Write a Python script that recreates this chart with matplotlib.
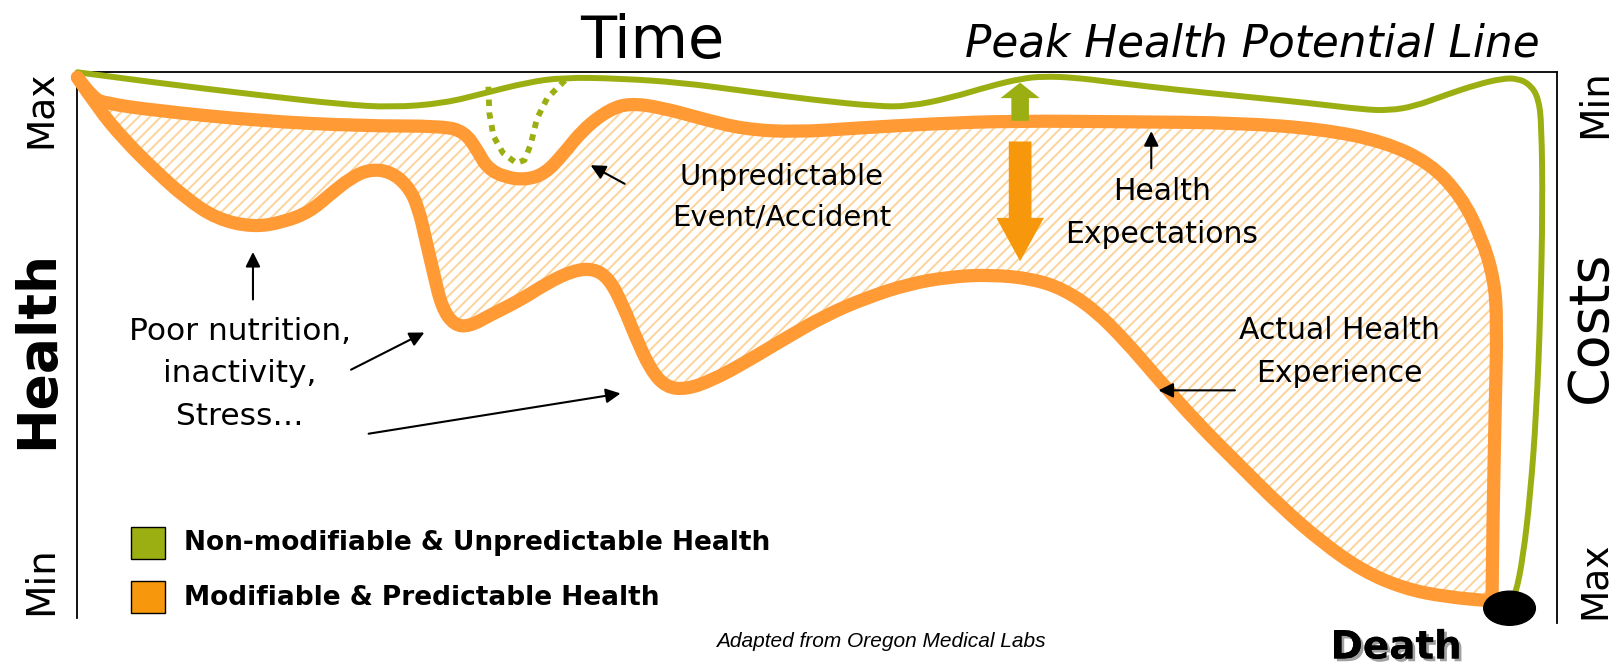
import matplotlib
matplotlib.use("Agg")
import matplotlib.pyplot as plt
from matplotlib.patches import Ellipse, Rectangle, PathPatch
from matplotlib.path import Path
import matplotlib.patheffects as pe

# ---------------- data (traced in a 1568 x 643 reference space) ----------------
peak_x = [75, 150, 250, 330, 380, 430, 470, 510, 545, 600, 660, 720, 790, 850, 880,
          920, 960, 990, 1010, 1040, 1080, 1140, 1200, 1270, 1320, 1345, 1370, 1400,
          1430, 1455, 1470, 1482, 1490, 1493, 1494, 1492, 1488, 1482, 1475, 1468, 1462]
peak_y = [70, 80, 92, 101, 104, 100, 90, 80, 75, 76, 80, 88, 97, 103, 103,
          95, 83, 76, 74, 75, 80, 87, 93, 100, 106, 107, 103, 92,
          82, 76, 76, 82, 95, 120, 200, 300, 400, 480, 540, 575, 588]

accident_x = [473, 474, 478, 487, 500, 508, 514, 520, 530, 548]
accident_y = [84, 110, 132, 148, 158, 155, 140, 115, 95, 77]

expect_x = [75, 90, 102, 150, 250, 350, 430, 450, 462, 472, 490, 510, 528, 545, 565,
            590, 610, 640, 680, 720, 770, 830, 900, 980, 1100, 1200, 1280, 1340,
            1385, 1415, 1435, 1447, 1450, 1448, 1446, 1445]
expect_y = [75, 95, 100, 107, 117, 122, 122, 128, 145, 163, 172, 174, 168, 150, 125,
            106, 100, 104, 115, 125, 128, 124, 120, 117, 118, 119, 125, 137,
            158, 190, 230, 270, 310, 400, 500, 585]

actual_x = [75, 95, 120, 150, 180, 210, 245, 275, 300, 320, 340, 358, 378, 395, 405,
            413, 420, 428, 440, 455, 475, 505, 530, 555, 575, 590, 603, 615, 630,
            645, 665, 690, 720, 760, 800, 840, 880, 920, 960, 1000, 1030, 1060,
            1090, 1120, 1160, 1200, 1240, 1280, 1320, 1360, 1400, 1445]
actual_y = [75, 105, 135, 165, 192, 212, 220, 215, 205, 188, 172, 164, 166, 180, 200,
            235, 265, 298, 315, 316, 305, 290, 274, 262, 260, 270, 295, 325, 358,
            375, 377, 368, 352, 328, 305, 288, 275, 268, 266, 270, 280, 300,
            330, 365, 410, 450, 490, 525, 553, 570, 578, 582]

legend_labels = ["Non-modifiable & Unpredictable Health", "Modifiable & Predictable Health"]
title_text = "Time"
peak_label = "Peak Health Potential Line"
left_labels = ["Max", "Health", "Min"]
right_labels = ["Min", "Costs", "Max"]
notes = ["Unpredictable\nEvent/Accident", "Health\nExpectations",
         "Actual Health\nExperience", "Poor nutrition,\ninactivity,\nStress…"]
source_text = "Adapted from Oregon Medical Labs"
end_text = "Death"

# ---------------- style ----------------
GREEN = "#9CAF12"
ORANGE = "#FF9A35"
ORANGE_SOLID = "#F7980C"
HATCH = "#FCD39A"

plt.rcParams["font.family"] = ["DejaVu Sans"]
plt.rcParams["hatch.linewidth"] = 1.4
plt.rcParams["hatch.color"] = HATCH


def smooth_path(xs, ys, closed=False):
    """Quadratic-Bezier path using the traced points as control points."""
    pts = list(zip(xs, ys))
    verts = [pts[0]]
    codes = [Path.MOVETO]
    for i in range(1, len(pts) - 1):
        mid = ((pts[i][0] + pts[i + 1][0]) / 2, (pts[i][1] + pts[i + 1][1]) / 2)
        verts += [pts[i], mid]
        codes += [Path.CURVE3, Path.CURVE3]
    verts.append(pts[-1])
    codes.append(Path.LINETO)
    if closed:
        verts.append(pts[0])
        codes.append(Path.CLOSEPOLY)
    return Path(verts, codes)


W, H = 1568, 643
fig = plt.figure(figsize=(16.19, 6.64), dpi=100)
ax = fig.add_axes([0, 0, 1, 1])
ax.set_xlim(0, W)
ax.set_ylim(H, 0)
ax.axis("off")

# frame
ax.plot([75, 75], [70, 598], color="black", lw=1.3, zorder=1)
ax.plot([75, 1508], [70, 70], color="black", lw=1.3, zorder=1)
ax.plot([1508, 1508], [70, 603], color="black", lw=1.3, zorder=1)

# hatched area between expectation and actual
fill_x = expect_x + actual_x[::-1]
fill_y = expect_y + actual_y[::-1]
ax.add_patch(PathPatch(smooth_path(fill_x, fill_y, closed=True), facecolor="none",
                       edgecolor=HATCH, hatch="///", lw=0, zorder=2))

# lines
line_kw = dict(fill=False, joinstyle="round", capstyle="round")
ax.add_patch(PathPatch(smooth_path(peak_x, peak_y), edgecolor=GREEN, lw=4.3,
                       zorder=4, **line_kw))
ax.plot(accident_x, accident_y, color=GREEN, lw=4.2, linestyle=(0, (1.1, 1.1)),
        dash_capstyle="butt", zorder=4)
ax.add_patch(PathPatch(smooth_path(expect_x, expect_y), edgecolor=ORANGE, lw=9.5,
                       zorder=5, **line_kw))
ax.add_patch(PathPatch(smooth_path(actual_x, actual_y), edgecolor=ORANGE, lw=9.5,
                       zorder=5, **line_kw))

# death dot
ax.add_patch(Ellipse((1462, 589), 50, 33, color="black", zorder=7))

# big arrows
ax.arrow(988, 117, 0, -37, width=17, head_width=38, head_length=15,
         length_includes_head=True, color=GREEN, lw=0, zorder=6)
ax.arrow(988, 137, 0, 116, width=22, head_width=46, head_length=42,
         length_includes_head=True, color=ORANGE_SOLID, lw=0, zorder=6)

# texts
ax.text(632, 40, title_text, fontsize=42.5, ha="center", va="center")
ax.text(1213, 43, peak_label, fontsize=31.5, style="italic", ha="center", va="center")

ax.text(40, 106, left_labels[0], fontsize=27, rotation=90, ha="center", va="center")
ax.text(36, 338, left_labels[1], fontsize=38.5, fontweight="bold", rotation=90,
        ha="center", va="center")
ax.text(40, 562, left_labels[2], fontsize=28, rotation=90, ha="center", va="center")
ax.text(1545, 100, right_labels[0], fontsize=28, rotation=90, ha="center", va="center")
ax.text(1541, 316, right_labels[1], fontsize=40, rotation=90, ha="center", va="center")
ax.text(1545, 562, right_labels[2], fontsize=27, rotation=90, ha="center", va="center")

note_pos = [(757, 191), (1125, 206), (1297, 341), (232, 362)]
note_size = [21, 21.5, 21.5, 22.5]
for t, (x, y), fs in zip(notes, note_pos, note_size):
    ax.text(x, y, t, fontsize=fs, ha="center", va="center", linespacing=1.6, zorder=8)

arrow_pairs = [((605, 178), (572, 160)), ((1115, 163), (1115, 127)),
               ((1196, 378), (1122, 378)), ((245, 290), (245, 244)),
               ((340, 358), (411, 322)), ((357, 420), (601, 381))]
for (x0, y0), (x1, y1) in arrow_pairs:
    ax.annotate("", xy=(x1, y1), xytext=(x0, y0),
                arrowprops=dict(arrowstyle="-|>", color="black", lw=1.5,
                                mutation_scale=22, shrinkA=0, shrinkB=0), zorder=8)

# legend
for i, (lab, col) in enumerate(zip(legend_labels, [GREEN, ORANGE_SOLID])):
    y = 510 + i * 53
    ax.add_patch(Rectangle((127, y), 33, 31, facecolor=col, edgecolor="black",
                           lw=1.0, zorder=6))
    ax.text(178, y + 16, lab, fontsize=19, fontweight="bold", ha="left",
            va="center")

ax.text(853, 621, source_text, fontsize=15, style="italic", ha="center", va="center",
        family=["Liberation Sans", "DejaVu Sans"])

ax.text(1352, 627, end_text, fontsize=28, fontweight="bold", ha="center", va="center",
        path_effects=[pe.withSimplePatchShadow(offset=(2, -2), shadow_rgbFace="#888888",
                                               alpha=0.8), pe.Normal()], zorder=9)

fig.savefig("out.png", dpi=100)
